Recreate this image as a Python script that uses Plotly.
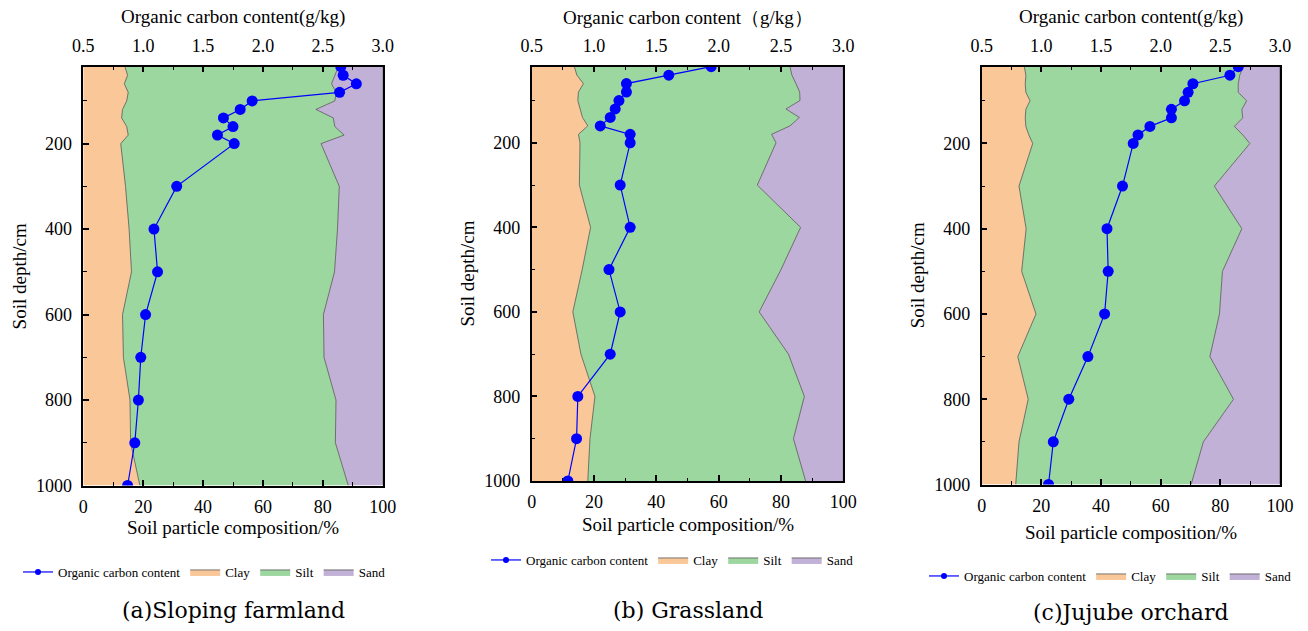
import plotly.graph_objects as go

W, H = 1308, 631

depth = [20, 40, 60, 80, 100, 120, 140, 160, 180, 200, 300, 400, 500, 600, 700, 800, 900, 1000]

# (a) Sloping farmland
oc_a = [2.65, 2.67, 2.78, 2.64, 1.91, 1.81, 1.67, 1.75, 1.62, 1.76, 1.28, 1.09, 1.12, 1.02, 0.98, 0.96, 0.93, 0.87]
clay_a = [13.9, 14.8, 13.7, 15.0, 14.5, 13.1, 12.8, 14.5, 15.0, 12.5, 14.1, 15.3, 16.1, 13.1, 13.4, 15.6, 15.8, 18.9]
silt_a = [71.3, 69.2, 69.2, 69.5, 69.5, 64.6, 70.7, 69.5, 72.1, 66.9, 71.4, 69.6, 67.8, 67.1, 67.0, 68.8, 68.4, 69.6]
sand_a = [14.8, 16.0, 17.1, 15.5, 16.0, 22.3, 16.5, 16.0, 12.9, 20.6, 14.5, 15.1, 16.1, 19.8, 19.6, 15.6, 15.8, 11.5]

# (b) Grassland
oc_b = [1.94, 1.60, 1.26, 1.26, 1.20, 1.17, 1.13, 1.05, 1.29, 1.29, 1.21, 1.29, 1.12, 1.21, 1.13, 0.87, 0.86, 0.79]
clay_b = [13.7, 14.5, 16.6, 15.0, 14.8, 15.5, 16.3, 18.0, 15.0, 15.5, 15.3, 18.9, 16.2, 13.2, 15.8, 20.3, 18.7, 18.0]
silt_b = [69.2, 69.0, 68.2, 71.0, 71.3, 66.1, 69.6, 64.9, 62.0, 62.9, 57.1, 67.4, 63.8, 59.8, 66.6, 67.2, 65.3, 69.9]
sand_b = [17.1, 16.5, 15.2, 14.0, 13.9, 18.4, 14.1, 17.1, 23.0, 21.6, 27.6, 13.7, 20.0, 27.0, 17.6, 12.5, 16.0, 12.1]

# (c) Jujube orchard
oc_c = [2.65, 2.58, 2.27, 2.23, 2.20, 2.09, 2.09, 1.91, 1.81, 1.77, 1.68, 1.55, 1.56, 1.53, 1.39, 1.23, 1.10, 1.06]
clay_c = [14.3, 14.8, 14.6, 14.8, 16.2, 14.8, 14.6, 14.8, 15.8, 17.1, 12.5, 14.9, 13.4, 18.2, 12.1, 15.6, 12.5, 11.4]
silt_c = [73.4, 71.7, 71.4, 71.2, 72.6, 72.4, 72.9, 69.9, 71.7, 72.8, 65.5, 72.3, 67.3, 61.5, 64.4, 68.8, 61.8, 58.8]
sand_c = [12.3, 13.5, 14.0, 14.0, 11.2, 12.8, 12.5, 15.3, 12.5, 10.1, 22.0, 12.8, 19.3, 20.3, 23.5, 15.6, 25.7, 29.8]

top_title = ["Organic carbon content(g/kg)", "Organic carbon content\uff08g/kg\uff09", "Organic carbon content(g/kg)"]
panel_titles = ["(a)Sloping farmland", "(b) Grassland", "(c)Jujube orchard"]

CLAY_C = "#FAC898"
SILT_C = "#9DD7A0"
SAND_C = "#C2B1D6"
EDGE_C = "#555555"
OC_C = "#0000FF"

# pixel geometry of the three plot areas: (left, right, top, bottom)
boxes = [(83.3, 382.7, 66.7, 485.5), (531.7, 843.3, 66.7, 481.0), (981.7, 1280.0, 66.7, 484.5)]
xt_y = [527, 524, 532]       # bottom axis title y
leg_pos = [(18, 572), (486, 560), (924, 576)]
title_y = [610, 610, 612]

FONT = "'Liberation Serif', 'Times New Roman', serif"
TFONT = "'DejaVu Serif', serif"

panels = [
    (oc_a, clay_a, silt_a, sand_a),
    (oc_b, clay_b, silt_b, sand_b),
    (oc_c, clay_c, silt_c, sand_c),
]

fig = go.Figure()
layout = dict(width=W, height=H, margin=dict(l=0, r=0, t=0, b=0, autoexpand=False),
              paper_bgcolor="white", plot_bgcolor="rgba(0,0,0,0)",
              font=dict(family=FONT, size=18, color="black"), annotations=[])


def px(x):
    return x / W


def py(y):
    return 1 - y / H


for i, (oc, clay, silt, sand) in enumerate(panels):
    n = i + 1
    xb = "x" if n == 1 else f"x{n}"
    xt = f"x{n + 3}"
    yy = "y" if n == 1 else f"y{n}"
    leg = "legend" if n == 1 else f"legend{n}"
    sg = f"s{n}"
    for name, vals, col, rank in [("Clay", clay, CLAY_C, 2), ("Silt", silt, SILT_C, 3), ("Sand", sand, SAND_C, 4)]:
        fig.add_trace(go.Scatter(x=vals, y=depth, name=name, stackgroup=sg, orientation="h",
                                 mode="lines", line=dict(color=EDGE_C, width=0.8),
                                 fillcolor=col, xaxis=xb, yaxis=yy, legend=leg, legendrank=rank))
    fig.add_trace(go.Scatter(x=oc, y=depth, name="Organic carbon content", mode="lines+markers",
                             line=dict(color=OC_C, width=1.2), marker=dict(color=OC_C, size=11),
                             xaxis=xt, yaxis=yy, showlegend=False))
    # legend entry with a small marker, as in the reference legend
    fig.add_trace(go.Scatter(x=[None], y=[None], name="Organic carbon content", mode="lines+markers",
                             line=dict(color=OC_C, width=1.2), marker=dict(color=OC_C, size=6),
                             xaxis=xt, yaxis=yy, legend=leg, legendrank=1))

    l, r, t, b = boxes[i]
    dom_x = [px(l), px(r)]
    dom_y = [py(b), py(t)]
    common = dict(showgrid=False, zeroline=False, showline=True, linecolor="black", linewidth=1.5,
                  ticks="inside", ticklen=6, tickwidth=1.5, tickcolor="black",
                  tickfont=dict(family=FONT, size=18, color="black"))
    layout[f"xaxis{n}"] = dict(domain=dom_x, anchor=yy, range=[0, 100], dtick=20, tick0=0,
                               minor=dict(ticks="inside", dtick=10, ticklen=3.5, tickwidth=1.2, tickcolor="black"),
                               ticklabelstandoff=4, **common)
    layout[f"xaxis{n + 3}"] = dict(domain=dom_x, anchor=yy, overlaying=xb, side="top", range=[0.5, 3.0],
                                   dtick=0.5, tick0=0.5, tickformat=".1f",
                                   minor=dict(ticks="inside", dtick=0.25, ticklen=3.5, tickwidth=1.2, tickcolor="black"),
                                   ticklabelstandoff=6, **common)
    layout[f"yaxis{n}"] = dict(domain=dom_y, anchor=xb, range=[1000, 20], dtick=200, tick0=0, mirror=True,
                               minor=dict(ticks="inside", dtick=100, ticklen=3.5, tickwidth=1.2, tickcolor="black"),
                               ticklabelstandoff=6, **common)

    cx = (l + r) / 2
    cy = (t + b) / 2
    layout["annotations"] += [
        dict(text=top_title[i], x=px(cx), y=py(17), xref="paper", yref="paper", showarrow=False,
             xanchor="center", yanchor="middle", font=dict(family=FONT, size=19)),
        dict(text="Soil particle composition/%", x=px(cx), y=py(xt_y[i]), xref="paper", yref="paper",
             showarrow=False, xanchor="center", yanchor="middle", font=dict(family=FONT, size=19)),
        dict(text="Soil depth/cm", x=px(l - 64), y=py(cy), xref="paper", yref="paper", textangle=-90,
             showarrow=False, xanchor="center", yanchor="middle", font=dict(family=FONT, size=19)),
        dict(text=panel_titles[i], x=px(cx), y=py(title_y[i]), xref="paper", yref="paper",
             showarrow=False, xanchor="center", yanchor="middle", font=dict(family=TFONT, size=22)),
    ]
    lx, ly = leg_pos[i]
    layout[leg] = dict(orientation="h", x=px(lx), y=py(ly), xanchor="left", yanchor="middle",
                       bgcolor="rgba(0,0,0,0)", font=dict(family=FONT, size=13), traceorder="normal",
                       itemwidth=30, tracegroupgap=0)

fig.update_layout(**layout)
fig.write_html("out.html", config={"displayModeBar": False},
               post_script="document.body.style.margin='0';document.body.style.padding='0';")
